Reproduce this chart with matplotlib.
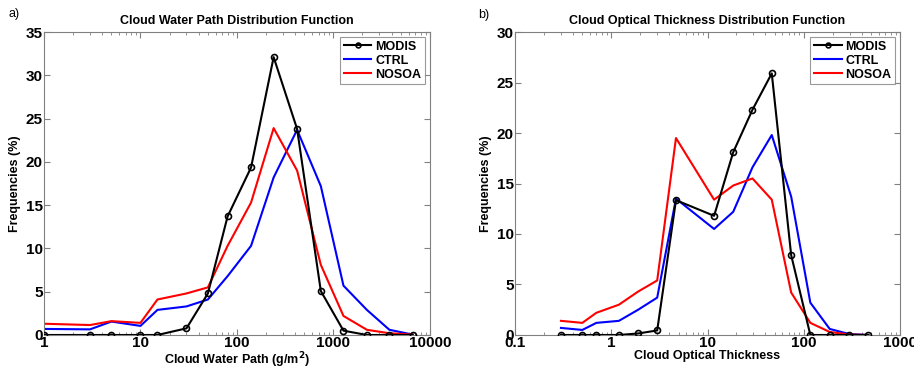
import numpy as np
import matplotlib.pyplot as plt
from matplotlib.ticker import LogLocator, FixedLocator, NullFormatter

plt.rcParams['font.family'] = ['Liberation Sans', 'DejaVu Sans']

# cloud water path panel
lwp_x = [1, 3, 5, 10, 15, 30, 50, 80, 140, 240, 420, 740, 1270, 2220, 3800, 6600]
lwp_modis = [0, 0, 0, 0, 0, 0.77, 4.8, 13.7, 19.35, 32.1, 23.8, 5.08, 0.5, 0, 0, 0]
lwp_ctrl = [0.7, 0.65, 1.55, 1.05, 2.9, 3.3, 4.1, 6.8, 10.3, 18.2, 23.7, 17.2, 5.7, 2.9, 0.6, 0.05]
lwp_nosoa = [1.3, 1.15, 1.6, 1.4, 4.1, 4.8, 5.5, 10.3, 15.3, 23.9, 19.0, 8.1, 2.2, 0.6, 0.2, 0.05]

# cloud optical thickness panel
cot_x = [0.3, 0.5, 0.7, 1.2, 1.9, 3, 4.7, 11.7, 18.5, 29.3, 46.5, 74, 117, 186, 295, 468]
cot_modis = [0, 0, 0, 0, 0.15, 0.45, 13.35, 11.8, 18.1, 22.3, 25.9, 7.9, 0, 0, 0, 0]
cot_ctrl = [0.7, 0.5, 1.2, 1.4, 2.5, 3.7, 13.5, 10.5, 12.2, 16.6, 19.8, 13.7, 3.2, 0.6, 0.1, 0]
cot_nosoa = [1.4, 1.2, 2.2, 3.0, 4.3, 5.4, 19.5, 13.4, 14.8, 15.5, 13.4, 4.2, 1.2, 0.3, 0.05, 0]

fig = plt.figure(figsize=(9.14, 3.68), dpi=100)
ax1 = fig.add_axes([0.0481, 0.0897, 0.4223, 0.8233])
ax2 = fig.add_axes([0.5635, 0.0897, 0.4212, 0.8233])

spine_col = '#808080'


def draw(ax, x, modis, ctrl, nosoa, xlim, ylim, xticks, xlabels, yticks, title, xlabel):
    ax.plot(x, modis, color='black', lw=1.5, marker='o', ms=4.3, mfc='none',
            mec='black', mew=1.2, label='MODIS', zorder=3)
    ax.plot(x, ctrl, color='blue', lw=1.5, label='CTRL')
    ax.plot(x, nosoa, color='red', lw=1.5, label='NOSOA')
    ax.set_xscale('log')
    ax.set_xlim(xlim)
    ax.set_ylim(ylim)
    ax.xaxis.set_major_locator(FixedLocator(xticks))
    ax.set_xticklabels(xlabels)
    ax.xaxis.set_minor_locator(LogLocator(base=10, subs=np.arange(2, 10)))
    ax.xaxis.set_minor_formatter(NullFormatter())
    ax.set_yticks(yticks)
    ax.set_yticklabels([str(v) for v in yticks])
    ax.tick_params(which='both', direction='in', top=True, right=True,
                   color=spine_col, labelsize=11)
    ax.tick_params(which='major', length=4, pad=1)
    ax.tick_params(which='minor', length=2)
    for lab in ax.get_xticklabels() + ax.get_yticklabels():
        lab.set_fontweight('bold')
    for s in ax.spines.values():
        s.set_color(spine_col)
    ax.set_title(title, fontsize=9, fontweight='bold', pad=6)
    ax.set_xlabel(xlabel, fontsize=9, fontweight='bold', labelpad=0)
    ax.set_ylabel('Frequencies (%)', fontsize=9, fontweight='bold', labelpad=3)
    leg = ax.legend(loc='upper right', prop={'weight': 'bold', 'size': 9},
                    handlelength=2.2, handletextpad=0.3, borderpad=0.3,
                    labelspacing=0.15, fancybox=False, borderaxespad=0.4,
                    markerscale=0.8, numpoints=1)
    leg.get_frame().set_edgecolor(spine_col)
    leg.get_frame().set_linewidth(0.8)


draw(ax1, lwp_x, lwp_modis, lwp_ctrl, lwp_nosoa, (1, 10000), (0, 35),
     [1, 10, 100, 1000, 10000], ['1', '10', '100', '1000', '10000'],
     [0, 5, 10, 15, 20, 25, 30, 35],
     'Cloud Water Path Distribution Function', 'Cloud Water Path (g/m$^\\mathbf{2}$)')
draw(ax2, cot_x, cot_modis, cot_ctrl, cot_nosoa, (0.1, 1000), (0, 30),
     [0.1, 1, 10, 100, 1000], ['0.1', '1', '10', '100', '1000'],
     [0, 5, 10, 15, 20, 25, 30],
     'Cloud Optical Thickness Distribution Function', 'Cloud Optical Thickness')

fig.text(0.009, 0.955, 'a)', fontsize=9)
fig.text(0.523, 0.95, 'b)', fontsize=9)

fig.savefig('out.png', dpi=100)
